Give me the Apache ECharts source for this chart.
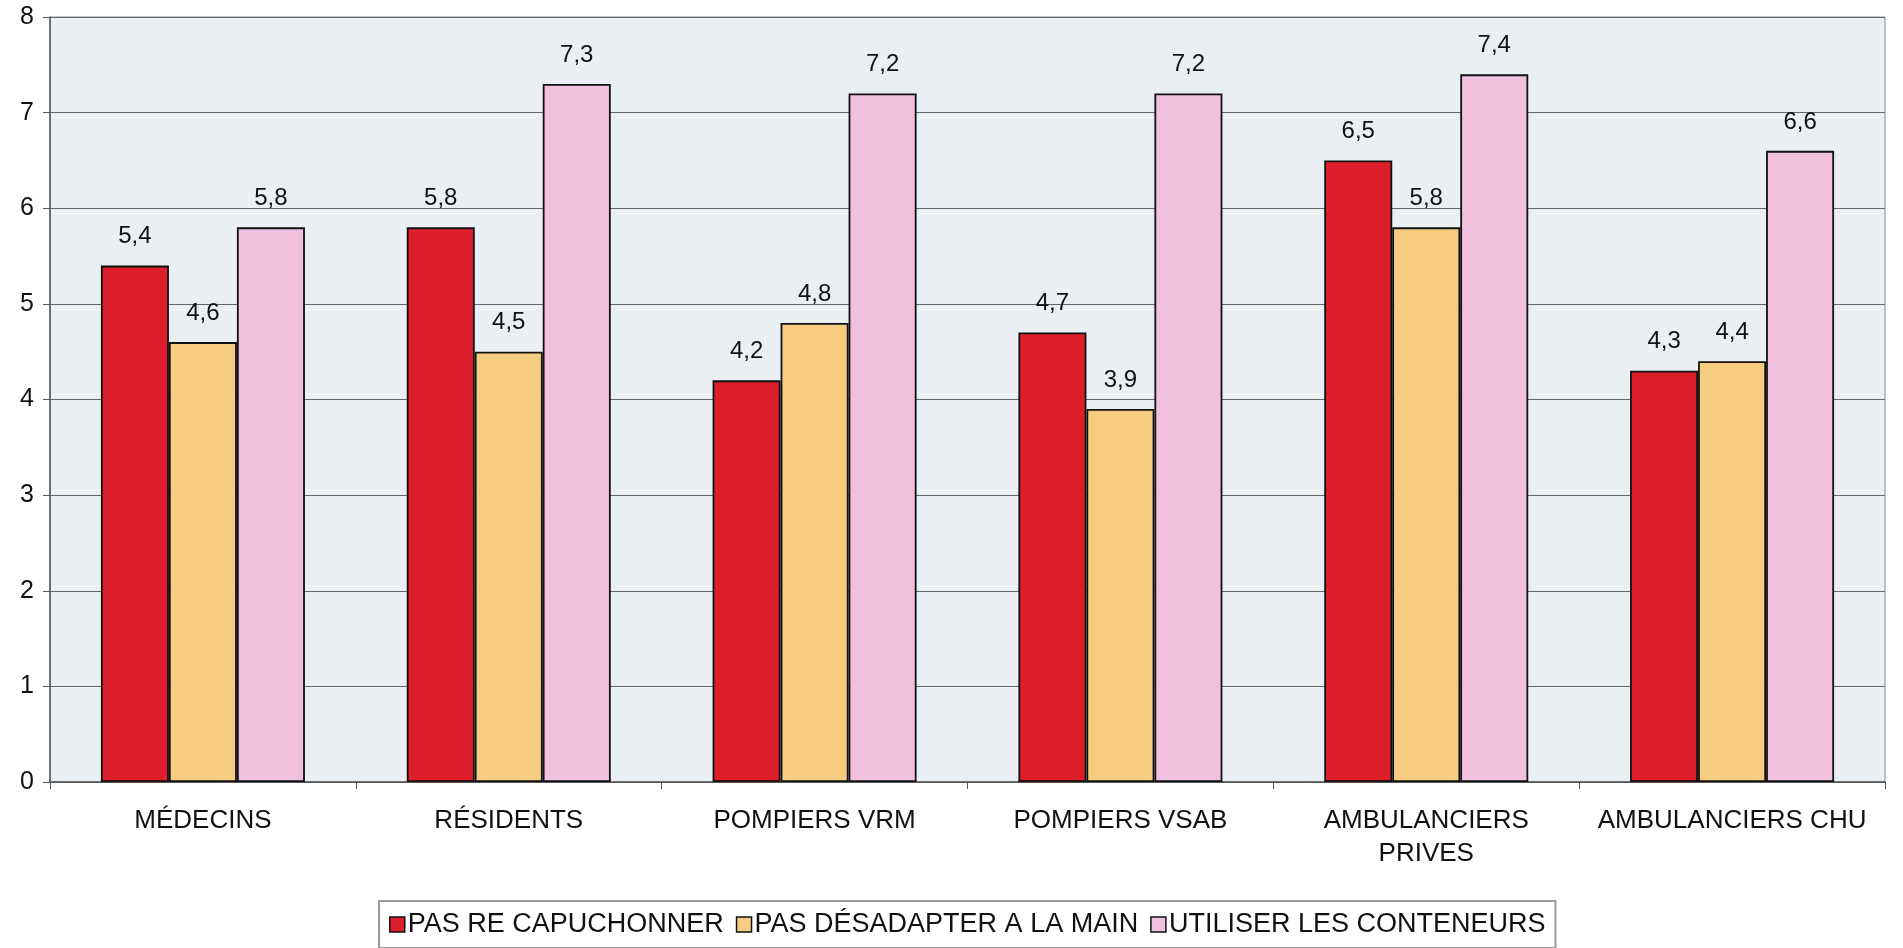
<!DOCTYPE html>
<html>
<head>
<meta charset="utf-8">
<script src="https://cdn.jsdelivr.net/npm/echarts@6/dist/echarts.min.js"></script>
<style>
  html, body { margin: 0; padding: 0; background: #fff; }
  #chart { width: 1903px; height: 948px; }
</style>
</head>
<body>
<div id="chart"></div>
<script>
const categories = ['MÉDECINS', 'RÉSIDENTS', 'POMPIERS VRM', 'POMPIERS VSAB', 'AMBULANCIERS\nPRIVES', 'AMBULANCIERS CHU']
const seriesNames = ['PAS RE CAPUCHONNER', 'PAS DÉSADAPTER A LA MAIN', 'UTILISER LES CONTENEURS']
const recapValues = [5.4, 5.8, 4.2, 4.7, 6.5, 4.3]
const desadValues = [4.6, 4.5, 4.8, 3.9, 5.8, 4.4]
const conteneurValues = [5.8, 7.3, 7.2, 7.2, 7.4, 6.6]
const colors = ['#dc1f2b', '#f6cd80', '#f1c0df']

const chart = echarts.init(document.getElementById('chart'))

function makeSeries(name, data, color) {
  return {
    name: name,
    type: 'bar',
    data: data,
    barWidth: 68,
    barGap: '0%',
    itemStyle: {
      color: color,
      borderColor: '#111',
      borderWidth: 1.8
    },
    label: {
      show: true,
      position: 'top',
      distance: 17,
      color: '#111',
      fontSize: 24,
      formatter: p => String(p.value).replace('.', ',')
    }
  }
}

chart.setOption({
  animation: false,
  textStyle: { fontFamily: 'Liberation Sans, Arial, sans-serif' },
  grid: {
    left: 50,
    right: 18,
    top: 17,
    bottom: 166,
    show: true,
    backgroundColor: '#e9eff2',
    borderColor: '#8a8f94',
    borderWidth: 1
  },
  legend: {
    bottom: 0,
    left: 379,
    icon: 'rect',
    itemWidth: 15,
    itemHeight: 15,
    itemGap: 12,
    padding: [10, 10],
    borderColor: '#9a9a9a',
    borderWidth: 2,
    textStyle: { fontSize: 27, color: '#111', padding: [0, 0, 0, -2] },
    data: seriesNames.map(n => ({ name: n, itemStyle: { borderColor: '#111', borderWidth: 1.5 } }))
  },
  xAxis: {
    type: 'category',
    data: categories,
    axisLine: { lineStyle: { color: '#555', width: 1.5 } },
    axisTick: { show: true, interval: 0, length: 7, lineStyle: { color: '#555' } },
    axisLabel: { interval: 0, color: '#111', fontSize: 26, margin: 22, lineHeight: 33 }
  },
  yAxis: {
    type: 'value',
    min: 0,
    max: 8,
    interval: 1,
    axisLine: { show: true, lineStyle: { color: '#555', width: 1.5 } },
    axisTick: { show: true, length: 7, lineStyle: { color: '#555' } },
    axisLabel: { color: '#111', fontSize: 25, margin: 16 },
    splitLine: { lineStyle: { color: '#666', width: 1.2 } }
  },
  series: [
    makeSeries(seriesNames[0], recapValues, colors[0]),
    makeSeries(seriesNames[1], desadValues, colors[1]),
    makeSeries(seriesNames[2], conteneurValues, colors[2])
  ]
})
</script>
</body>
</html>
